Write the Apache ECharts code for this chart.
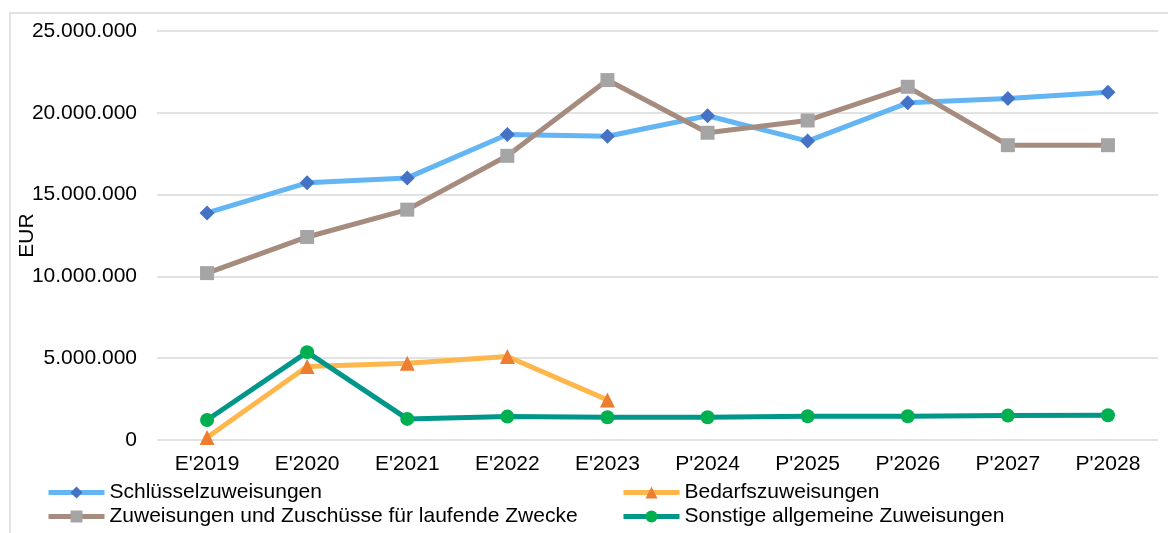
<!DOCTYPE html>
<html>
<head>
<meta charset="utf-8">
<script src="https://cdn.jsdelivr.net/npm/echarts@6/dist/echarts.min.js"></script>
<style>
html,body{margin:0;padding:0;background:#fff;}
#chart{width:1168px;height:533px;}
</style>
</head>
<body>
<div id="chart"></div>
<script>
const categories = ["E'2019","E'2020","E'2021","E'2022","E'2023","P'2024","P'2025","P'2026","P'2027","P'2028"];
const schluessel = [13880000,15720000,16020000,18670000,18570000,19820000,18270000,20610000,20880000,21260000];
const bedarf = [150000,4490000,4690000,5100000,2450000,null,null,null,null,null];
const laufend = [10200000,12410000,14080000,17370000,22000000,18780000,19530000,21590000,18020000,18020000];
const sonstige = [1220000,5370000,1290000,1430000,1390000,1390000,1450000,1450000,1490000,1510000];
const yTicks = [0,5000000,10000000,15000000,20000000,25000000];
const names = ["Schlüsselzuweisungen","Bedarfszuweisungen","Zuweisungen und Zuschüsse für laufende Zwecke","Sonstige allgemeine Zuweisungen"];

const FONT = '"Liberation Sans", Arial, sans-serif';
function fmt(v){ return String(v).replace(/\B(?=(\d{3})+(?!\d))/g,'.'); }

function mk(name, data, lineColor, symbol, symColor, size){
  return {
    name, type:'line', data, connectNulls:false,
    symbol, symbolSize:size, showAllSymbol:true,
    lineStyle:{color:lineColor,width:5},
    itemStyle:{color:symColor, borderWidth:0},
    color: lineColor,
    emphasis:{disabled:true},
    animation:false
  };
}

const chart = echarts.init(document.getElementById('chart'));
const legendCommon = {
  orient:'vertical', top:482, height:60, padding:0, itemWidth:56, itemHeight:15, itemGap:3,
  textStyle:{fontFamily:FONT,fontSize:21,color:'#000',lineHeight:21},
  lineStyle:{width:5},
  selectedMode:false
};
chart.setOption({
  animation:false,
  textStyle:{fontFamily:FONT},
  graphic:[{
    type:'polyline', silent:true,
    shape:{points:[[10,533],[10,13],[1168,13]]},
    style:{stroke:'#d9d9d9',lineWidth:1.5,fill:null}
  }],
  grid:{left:157,right:10,top:31,bottom:93,containLabel:false,outerBoundsMode:'none'},
  legend:[
    Object.assign({left:46,data:[names[0],names[2]]},legendCommon),
    Object.assign({left:621,data:[names[1],names[3]]},legendCommon)
  ],
  xAxis:{
    type:'category', data:categories, boundaryGap:true,
    axisLine:{show:false}, axisTick:{show:false},
    axisLabel:{fontFamily:FONT,fontSize:21,color:'#000',margin:14}
  },
  yAxis:{
    type:'value', min:0, max:25000000, interval:5000000,
    name:'EUR', nameLocation:'middle', nameRotate:90, nameGap:119, nameMoveOverlap:false,
    nameTextStyle:{fontFamily:FONT,fontSize:21,color:'#000'},
    axisLine:{show:false}, axisTick:{show:false},
    axisLabel:{fontFamily:FONT,fontSize:21,color:'#000',margin:20,
      formatter:function(v){ return yTicks.indexOf(v)>=0 ? fmt(v) : ''; }},
    splitLine:{lineStyle:{color:'#d9d9d9',width:1.5}}
  },
  series:[
    mk(names[0], schluessel, '#63b5f3', 'diamond', '#4472c4', 15),
    mk(names[1], bedarf, '#ffb64d', 'triangle', '#ed7d31', 15),
    mk(names[2], laufend, '#a68b7f', 'rect', '#a5a5a5', 14),
    mk(names[3], sonstige, '#00968a', 'circle', '#00b050', 14)
  ]
});
</script>
</body>
</html>
